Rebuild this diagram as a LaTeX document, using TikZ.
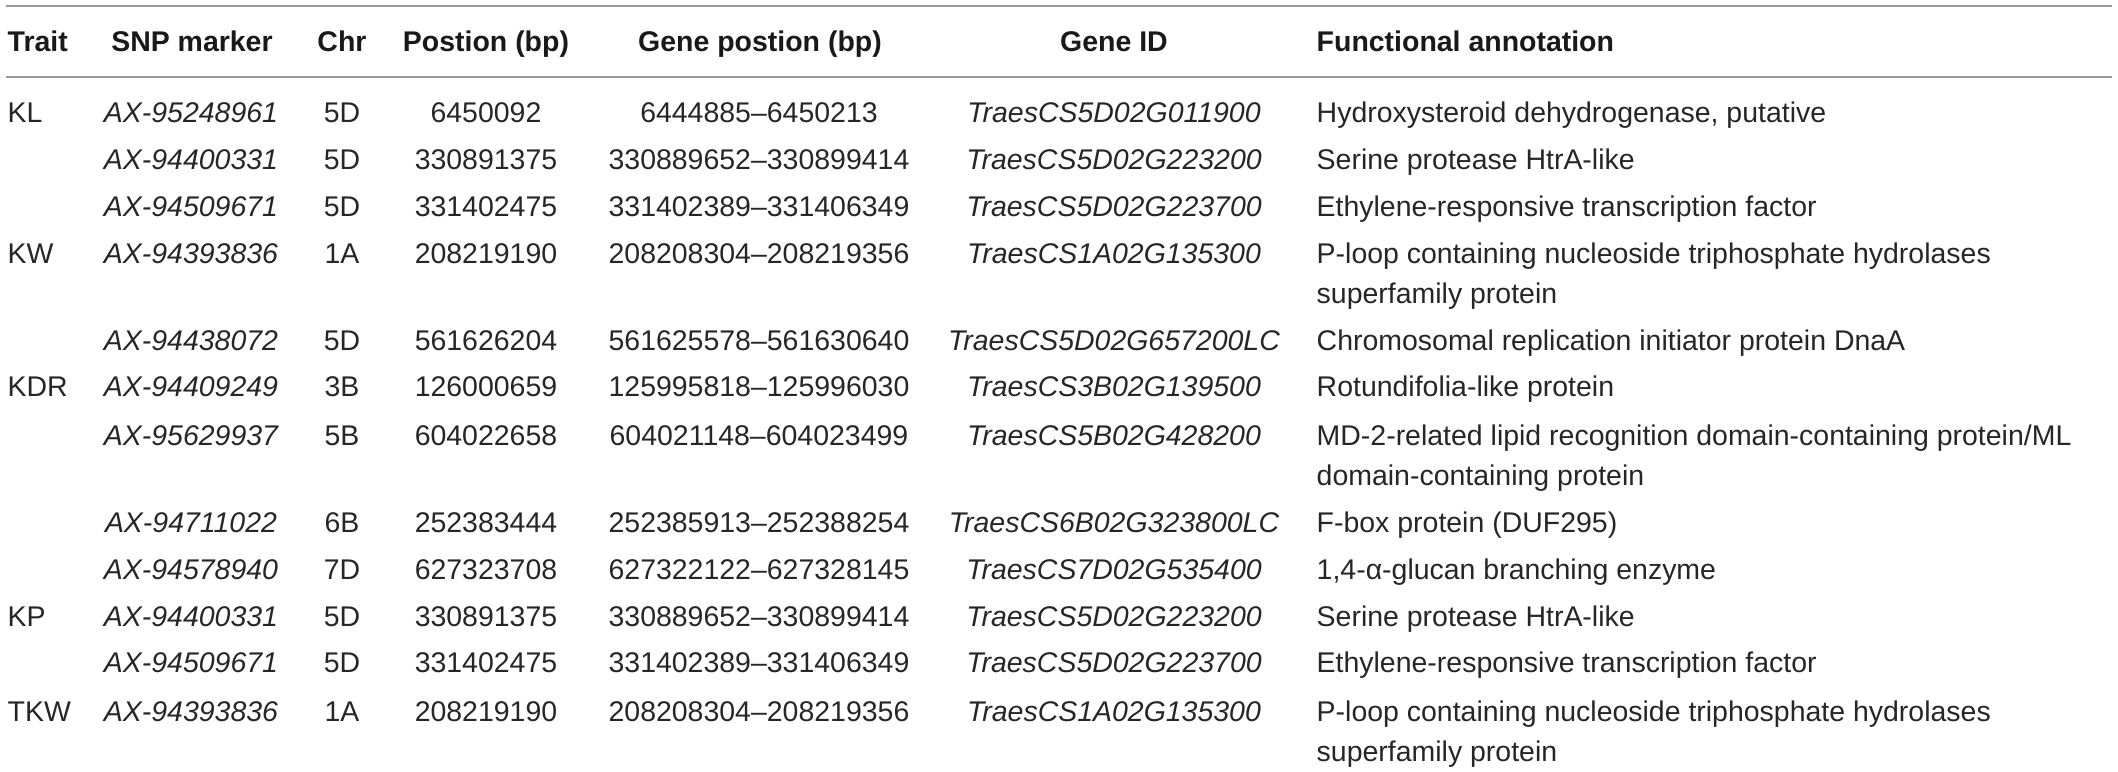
\documentclass[tikz,border=0pt]{standalone}
\usepackage{fontspec}
\setmainfont{Liberation Sans}
\begin{document}
\begin{tikzpicture}[
    cell/.style={inner sep=0pt, anchor=base, text=black!85, font=\fontsize{8.1}{11.4}\selectfont},
    lcell/.style={cell, anchor=base west, align=left},
    head/.style={cell, text=black!90, font=\fontsize{8.1}{11.4}\selectfont\bfseries},
    idcell/.style={cell, font=\fontsize{8.1}{11.4}\selectfont\itshape},
    rule/.style={draw=black!40, line width=0.55pt}]

    \useasboundingbox (0,0) rectangle (21.18,-7.72);

    % these are the rules
    \coordinate (topL) at (0.06,-0.057);
    \coordinate (topR) at (21.12,-0.057);
    \coordinate (midL) at (0.06,-0.77);
    \coordinate (midR) at (21.12,-0.77);
    \draw[rule] (topL) -- (topR);
    \draw[rule] (midL) -- (midR);

    % header
    \node[head, anchor=base west] (hTrait) at (0.07,-0.52) {Trait};
    \node[head] (hSnp) at (1.92,-0.52) {SNP marker};
    \node[head] (hChr) at (3.42,-0.52) {Chr};
    \node[head] (hPos) at (4.86,-0.52) {Postion (bp)};
    \node[head] (hGpos) at (7.60,-0.52) {Gene postion (bp)};
    \node[head] (hGid) at (11.14,-0.52) {Gene ID};
    \node[head, anchor=base west] (hAnn) at (13.16,-0.52) {Functional annotation};

    % KL
    \node[lcell] (trait1) at (0.07,-1.23) {KL};
    \node[idcell] (snp1) at (1.91,-1.23) {AX-95248961};
    \node[cell] (chr1) at (3.42,-1.23) {5D};
    \node[cell] (pos1) at (4.86,-1.23) {6450092};
    \node[cell] (gpos1) at (7.59,-1.23) {6444885--6450213};
    \node[idcell] (gid1) at (11.14,-1.23) {TraesCS5D02G011900};
    \node[lcell] (ann1) at (13.16,-1.23) {Hydroxysteroid dehydrogenase, putative};

    \node[idcell] (snp2) at (1.91,-1.70) {AX-94400331};
    \node[cell] (chr2) at (3.42,-1.70) {5D};
    \node[cell] (pos2) at (4.86,-1.70) {330891375};
    \node[cell] (gpos2) at (7.59,-1.70) {330889652--330899414};
    \node[idcell] (gid2) at (11.14,-1.70) {TraesCS5D02G223200};
    \node[lcell] (ann2) at (13.16,-1.70) {Serine protease HtrA-like};

    \node[idcell] (snp3) at (1.91,-2.17) {AX-94509671};
    \node[cell] (chr3) at (3.42,-2.17) {5D};
    \node[cell] (pos3) at (4.86,-2.17) {331402475};
    \node[cell] (gpos3) at (7.59,-2.17) {331402389--331406349};
    \node[idcell] (gid3) at (11.14,-2.17) {TraesCS5D02G223700};
    \node[lcell] (ann3) at (13.16,-2.17) {Ethylene-responsive transcription factor};

    % KW (two-line cells sit on the baseline of their last line)
    \node[lcell] (trait4) at (0.07,-2.64) {KW};
    \node[idcell] (snp4) at (1.91,-2.64) {AX-94393836};
    \node[cell] (chr4) at (3.42,-2.64) {1A};
    \node[cell] (pos4) at (4.86,-2.64) {208219190};
    \node[cell] (gpos4) at (7.59,-2.64) {208208304--208219356};
    \node[idcell] (gid4) at (11.14,-2.64) {TraesCS1A02G135300};
    \node[lcell] (ann4) at (13.16,-3.04) {P-loop containing nucleoside triphosphate hydrolases\\superfamily protein};

    \node[idcell] (snp5) at (1.91,-3.51) {AX-94438072};
    \node[cell] (chr5) at (3.42,-3.51) {5D};
    \node[cell] (pos5) at (4.86,-3.51) {561626204};
    \node[cell] (gpos5) at (7.59,-3.51) {561625578--561630640};
    \node[idcell] (gid5) at (11.14,-3.51) {TraesCS5D02G657200LC};
    \node[lcell] (ann5) at (13.16,-3.51) {Chromosomal replication initiator protein DnaA};

    % KDR
    \node[lcell] (trait6) at (0.07,-3.97) {KDR};
    \node[idcell] (snp6) at (1.91,-3.97) {AX-94409249};
    \node[cell] (chr6) at (3.42,-3.97) {3B};
    \node[cell] (pos6) at (4.86,-3.97) {126000659};
    \node[cell] (gpos6) at (7.59,-3.97) {125995818--125996030};
    \node[idcell] (gid6) at (11.14,-3.97) {TraesCS3B02G139500};
    \node[lcell] (ann6) at (13.16,-3.97) {Rotundifolia-like protein};

    \node[idcell] (snp7) at (1.91,-4.46) {AX-95629937};
    \node[cell] (chr7) at (3.42,-4.46) {5B};
    \node[cell] (pos7) at (4.86,-4.46) {604022658};
    \node[cell] (gpos7) at (7.59,-4.46) {604021148--604023499};
    \node[idcell] (gid7) at (11.14,-4.46) {TraesCS5B02G428200};
    \node[lcell] (ann7) at (13.16,-4.86) {MD-2-related lipid recognition domain-containing protein/ML\\domain-containing protein};

    \node[idcell] (snp8) at (1.91,-5.33) {AX-94711022};
    \node[cell] (chr8) at (3.42,-5.33) {6B};
    \node[cell] (pos8) at (4.86,-5.33) {252383444};
    \node[cell] (gpos8) at (7.59,-5.33) {252385913--252388254};
    \node[idcell] (gid8) at (11.14,-5.33) {TraesCS6B02G323800LC};
    \node[lcell] (ann8) at (13.16,-5.33) {F-box protein (DUF295)};

    \node[idcell] (snp9) at (1.91,-5.80) {AX-94578940};
    \node[cell] (chr9) at (3.42,-5.80) {7D};
    \node[cell] (pos9) at (4.86,-5.80) {627323708};
    \node[cell] (gpos9) at (7.59,-5.80) {627322122--627328145};
    \node[idcell] (gid9) at (11.14,-5.80) {TraesCS7D02G535400};
    \node[lcell] (ann9) at (13.16,-5.80) {1,4-α-glucan branching enzyme};

    % KP
    \node[lcell] (trait10) at (0.07,-6.27) {KP};
    \node[idcell] (snp10) at (1.91,-6.27) {AX-94400331};
    \node[cell] (chr10) at (3.42,-6.27) {5D};
    \node[cell] (pos10) at (4.86,-6.27) {330891375};
    \node[cell] (gpos10) at (7.59,-6.27) {330889652--330899414};
    \node[idcell] (gid10) at (11.14,-6.27) {TraesCS5D02G223200};
    \node[lcell] (ann10) at (13.16,-6.27) {Serine protease HtrA-like};

    \node[idcell] (snp11) at (1.91,-6.73) {AX-94509671};
    \node[cell] (chr11) at (3.42,-6.73) {5D};
    \node[cell] (pos11) at (4.86,-6.73) {331402475};
    \node[cell] (gpos11) at (7.59,-6.73) {331402389--331406349};
    \node[idcell] (gid11) at (11.14,-6.73) {TraesCS5D02G223700};
    \node[lcell] (ann11) at (13.16,-6.73) {Ethylene-responsive transcription factor};

    % TKW
    \node[lcell] (trait12) at (0.07,-7.22) {TKW};
    \node[idcell] (snp12) at (1.91,-7.22) {AX-94393836};
    \node[cell] (chr12) at (3.42,-7.22) {1A};
    \node[cell] (pos12) at (4.86,-7.22) {208219190};
    \node[cell] (gpos12) at (7.59,-7.22) {208208304--208219356};
    \node[idcell] (gid12) at (11.14,-7.22) {TraesCS1A02G135300};
    \node[lcell] (ann12) at (13.16,-7.62) {P-loop containing nucleoside triphosphate hydrolases\\superfamily protein};

\end{tikzpicture}
\end{document}
